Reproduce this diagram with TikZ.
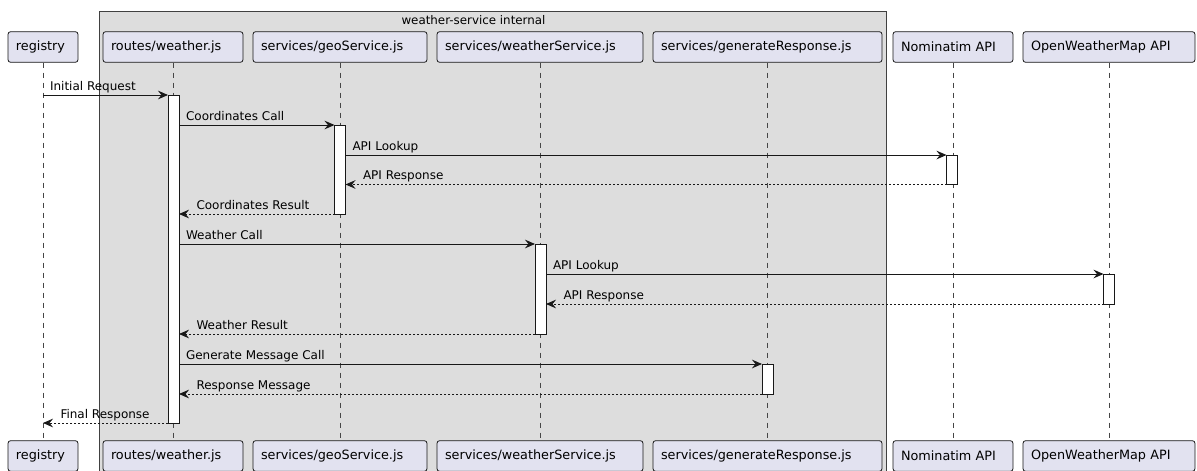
\documentclass[tikz,border=0pt]{standalone}
\usepackage{fontspec}
\setmainfont{DejaVu Sans}
\usetikzlibrary{arrows.meta}
\definecolor{lc}{HTML}{181818}
\definecolor{pfill}{HTML}{E2E2F0}
\definecolor{ffill}{HTML}{DDDDDD}
\begin{document}
\begin{tikzpicture}[x=0.75pt,y=-0.75pt,
  part/.style={draw=lc, fill=pfill, rounded corners=2pt, line width=0.6pt, inner xsep=6pt, inner ysep=0pt, minimum height=23pt, text width=#1, align=left, font=\fontsize{9.6}{11}\selectfont},
  life/.style={draw=lc!80, line width=0.6pt, dash pattern=on 3.75pt off 3.75pt},
  act/.style={draw=lc, fill=white, line width=0.75pt, inner sep=0, outer sep=0, minimum width=8.25pt},
  msg/.style={draw=lc, line width=0.75pt, -{Stealth[length=7.5pt,width=6.5pt,inset=2.6pt]}},
  ret/.style={msg, dash pattern=on 1.5pt off 1.5pt},
  mlab/.style={inner sep=0, font=\fontsize{9}{11}\selectfont, anchor=base west},
  flab/.style={mlab, at start, xshift=4.9pt, yshift=3.75pt},
  rlab/.style={mlab, at end, xshift=12.75pt, yshift=3.75pt}
]
\useasboundingbox (0,0) rectangle (1197,471);
% frame
\draw[draw=black!75, fill=ffill, line width=0.75pt] (99,11.7) -- (886,11.7) -- (886,480) -- (99,480) -- cycle;
\node[inner sep=0, font=\fontsize{8.9}{11}\selectfont] (ftitle) at (473.5,20) {weather-service internal};
% participants top
\node[part=40.5pt] (regT) at (43,47) {registry};
\node[part=93pt] (rouT) at (173,47) {routes/weather.js};
\node[part=118.5pt] (geoT) at (340,47) {services/geoService.js};
\node[part=142.5pt] (weaT) at (540,47) {services/weatherService.js};
\node[part=159.75pt] (genT) at (767.5,47) {services/generateResponse.js};
\node[part=78pt] (nomT) at (953,47) {Nominatim API};
\node[part=117pt] (owmT) at (1109,47) {OpenWeatherMap API};
% participants bottom
\node[part=40.5pt] (regB) at (43,456) {registry};
\node[part=93pt] (rouB) at (173,456) {routes/weather.js};
\node[part=118.5pt] (geoB) at (340,456) {services/geoService.js};
\node[part=142.5pt] (weaB) at (540,456) {services/weatherService.js};
\node[part=159.75pt] (genB) at (767.5,456) {services/generateResponse.js};
\node[part=78pt] (nomB) at (953,456) {Nominatim API};
\node[part=117pt] (owmB) at (1109,456) {OpenWeatherMap API};
% lifelines
\foreach \p in {reg,rou,geo,wea,gen,nom,owm}{\draw[life] (\p T.south) -- (\p B.north);}
% activations
\node[act, minimum height=246pt] (aR) at (173.5,259) {};
\node[act, minimum height=66.75pt] (aG) at (340,169.5) {};
\node[act, minimum height=22.1pt] (aN) at (952,169.75) {};
\node[act, minimum height=67.5pt] (aW) at (540.5,289) {};
\node[act, minimum height=22.5pt] (aO) at (1109,289) {};
\node[act, minimum height=22.5pt] (aGen) at (767.5,379) {};
% messages
\draw[msg] (regT.south |- aR.north) -- (aR.north west) node[flab] {Initial Request};
\draw[msg] (aR.east |- aG.north) -- (aG.north west) node[flab] {Coordinates Call};
\draw[msg] (aG.east |- aN.north) -- (aN.north west) node[flab] {API Lookup};
\draw[ret] (aN.south west) -- (aG.east |- aN.south) node[rlab] {API Response};
\draw[ret] (aG.south west) -- (aR.east |- aG.south) node[rlab] {Coordinates Result};
\draw[msg] (aR.east |- aW.north) -- (aW.north west) node[flab] {Weather Call};
\draw[msg] (aW.east |- aO.north) -- (aO.north west) node[flab] {API Lookup};
\draw[ret] (aO.south west) -- (aW.east |- aO.south) node[rlab] {API Response};
\draw[ret] (aW.south west) -- (aR.east |- aW.south) node[rlab] {Weather Result};
\draw[msg] (aR.east |- aGen.north) -- (aGen.north west) node[flab] {Generate Message Call};
\draw[ret] (aGen.south west) -- (aR.east |- aGen.south) node[rlab] {Response Message};
\draw[ret] (aR.south west) -- (regT.south |- aR.south) node[rlab] {Final Response};
\end{tikzpicture}
\end{document}
